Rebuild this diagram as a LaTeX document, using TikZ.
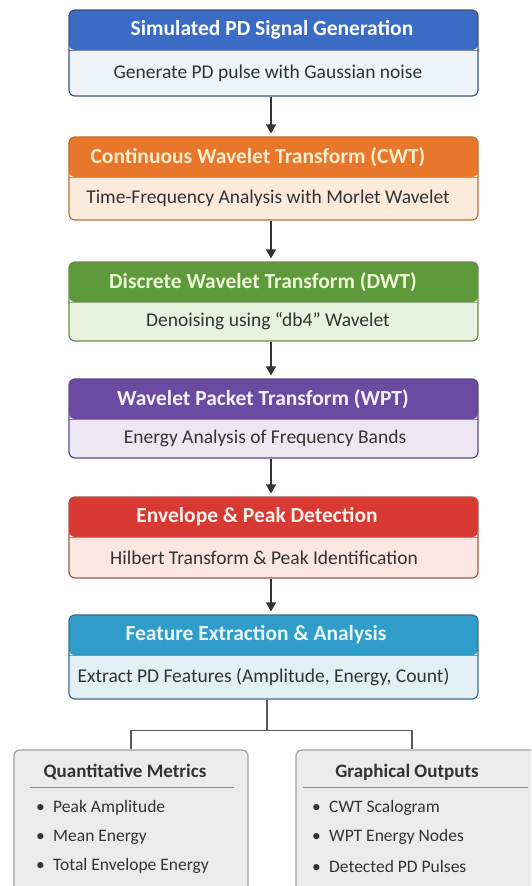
\documentclass[tikz,border=0pt]{standalone}
\usepackage{fontspec}
\setmainfont{Carlito}
\usetikzlibrary{arrows.meta}
\definecolor{blueH}{HTML}{3B6CC5}\definecolor{blueB}{HTML}{EEF2F9}\definecolor{blueD}{HTML}{3F5277}
\definecolor{orangeH}{HTML}{E8762B}\definecolor{orangeB}{HTML}{FCEADB}\definecolor{orangeD}{HTML}{B86E35}
\definecolor{greenH}{HTML}{5E9A3B}\definecolor{greenB}{HTML}{E9F1E0}\definecolor{greenD}{HTML}{6B8A4E}
\definecolor{purpleH}{HTML}{6B4BA1}\definecolor{purpleB}{HTML}{EDE7F4}\definecolor{purpleD}{HTML}{5B4A82}
\definecolor{redH}{HTML}{D83A33}\definecolor{redB}{HTML}{FBE6E1}\definecolor{redD}{HTML}{A8554D}
\definecolor{tealH}{HTML}{2F9CC9}\definecolor{tealB}{HTML}{E2EFF5}\definecolor{tealD}{HTML}{3C6C8C}
\definecolor{txt}{HTML}{333333}
\definecolor{greyF}{HTML}{EBEBEB}\definecolor{greyD}{HTML}{A0A0A0}
\tikzset{
  stage/.style n args={3}{draw=#3, fill=#2, line width=1.2pt, rounded corners=6pt,
    minimum width=409pt, inner sep=0pt,
    path picture={\fill[#1] ([yshift=2pt]path picture bounding box.north west) rectangle ([yshift=-40pt]path picture bounding box.north east);
      \draw[#3!70, line width=0.7pt] ([yshift=-40pt]path picture bounding box.north west) -- ([yshift=-40pt]path picture bounding box.north east);}},
  ttl/.style={font=\fontsize{21.5}{24}\selectfont\bfseries, inner sep=0pt},
  bdy/.style={font=\fontsize{19.5}{22}\selectfont, text=txt, inner sep=0pt},
  arr/.style={draw=txt, line width=1.2pt, -{Triangle[width=10pt,length=9pt]}, shorten >=3pt},
  conn/.style={draw=black!65, line width=1.5pt},
  outbox/.style={draw=greyD, fill=greyF, line width=1.2pt, rounded corners=6pt, inner sep=0pt, minimum height=150pt},
  btitle/.style={font=\fontsize{19}{22}\selectfont\bfseries, text=txt, inner sep=0pt},
  bitem/.style={font=\fontsize{17.5}{20}\selectfont, text=txt, inner sep=0pt, anchor=west},
  sepline/.style={draw=black!45, line width=1pt}
}
\begin{document}
\begin{tikzpicture}[x=1pt,y=-1pt]
\useasboundingbox (0,0) rectangle (531,886);
\clip (0,0) rectangle (531,886);
\fill[white] (0,0) rectangle (531,886);

% stages
\node[stage={blueH}{blueB}{blueD}, minimum height=86pt] (s1) at (273.5,53) {};
\node[ttl, text=white] (t1) at (272,30) {Simulated PD Signal Generation};
\node[bdy] (d1) at (268,73) {Generate PD pulse with Gaussian noise};

\node[stage={orangeH}{orangeB}{orangeD}, minimum height=83pt] (s2) at (273.5,178.5) {};
\node[ttl, text={rgb,255:red,255;green,236;blue,205}] (t2) at (258,157) {Continuous Wavelet Transform (CWT)};
\node[bdy] (d2) at (268,198.5) {Time-Frequency Analysis with Morlet Wavelet};

\node[stage={greenH}{greenB}{greenD}, minimum height=79pt] (s3) at (273.5,301.5) {};
\node[ttl, text={rgb,255:red,236;green,247;blue,214}] (t3) at (263,282) {Discrete Wavelet Transform (DWT)};
\node[bdy] (d3) at (268,321.5) {Denoising using “db4” Wavelet};

\node[stage={purpleH}{purpleB}{purpleD}, minimum height=79pt] (s4) at (273.5,418.5) {};
\node[ttl, text={rgb,255:red,246;green,242;blue,255}] (t4) at (263,399) {Wavelet Packet Transform (WPT)};
\node[bdy] (d4) at (265,438.5) {Energy Analysis of Frequency Bands};

\node[stage={redH}{redB}{redD}, minimum height=81pt] (s5) at (273.5,537.5) {};
\node[ttl, text={rgb,255:red,255;green,240;blue,236}] (t5) at (257,517) {Envelope \& Peak Detection};
\node[bdy] (d5) at (264,557.5) {Hilbert Transform \& Peak Identification};

\node[stage={tealH}{tealB}{tealD}, minimum height=84pt] (s6) at (273.5,657) {};
\node[ttl, text={rgb,255:red,228;green,247;blue,255}] (t6) at (256,635) {Feature Extraction \& Analysis};
\node[bdy] (d6) at (263.5,677) {Extract PD Features (Amplitude, Energy, Count)};

% arrows
\draw[arr] ([xshift=-2.5pt]s1.south) -- ([xshift=-2.5pt]s2.north);
\draw[arr] ([xshift=-2.5pt]s2.south) -- ([xshift=-2.5pt]s3.north);
\draw[arr] ([xshift=-2.5pt]s3.south) -- ([xshift=-2.5pt]s4.north);
\draw[arr] ([xshift=-2.5pt]s4.south) -- ([xshift=-2.5pt]s5.north);
\draw[arr] ([xshift=-2.5pt]s5.south) -- ([xshift=-2.5pt]s6.north);

% output boxes
\node[outbox, minimum width=234pt] (q) at (131,825) {};
\node[outbox, minimum width=240pt] (g) at (416,825) {};

\draw[conn] ([xshift=-6.5pt]s6.south) -- ++(0,31) coordinate (j);
\draw[conn] (q.north) |- (j) -| ([xshift=-4pt]g.north);

\node[btitle] (qt) at (125,772) {Quantitative Metrics};
\draw[sepline] (30,787) -- (234,787);
\node[bitem] (q1) at (36,808) {\makebox[17pt][l]{•}Peak Amplitude};
\node[bitem] (q2) at (36,837) {\makebox[17pt][l]{•}Mean Energy};
\node[bitem] (q3) at (36,866) {\makebox[17pt][l]{•}Total Envelope Energy};

\node[btitle] (gt) at (407,772) {Graphical Outputs};
\draw[sepline] (303,787) -- (528,787);
\node[bitem] (g1) at (312,808) {\makebox[17pt][l]{•}CWT Scalogram};
\node[bitem] (g2) at (312,837) {\makebox[17pt][l]{•}WPT Energy Nodes};
\node[bitem] (g3) at (312,866) {\makebox[17pt][l]{•}Detected PD Pulses};
\end{tikzpicture}
\end{document}
